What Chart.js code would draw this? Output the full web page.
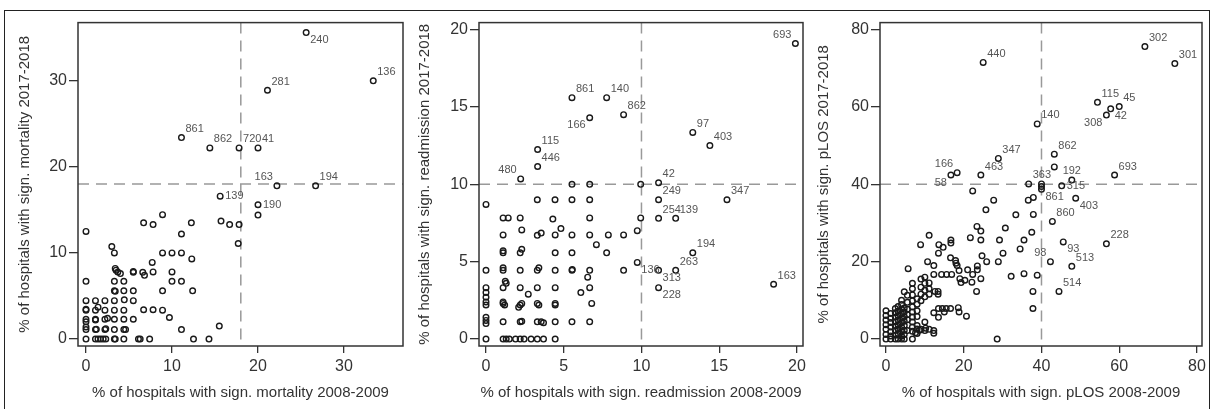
<!DOCTYPE html>
<html>
<head>
<meta charset="utf-8">
<script src="https://cdn.jsdelivr.net/npm/chart.js@4"></script>
<style>
  html, body { margin: 0; padding: 0; background: #fff; }
  body { width: 1211px; height: 409px; position: relative; overflow: hidden; }
  #frame { position: absolute; left: 4px; top: 10px; width: 1206px; height: 420px; border: 1.5px solid #222; box-sizing: border-box; }
  canvas { position: absolute; top: 11px; }
</style>
</head>
<body>
<div id="frame"></div>
<canvas id="mort" width="420" height="398" style="left:5px"></canvas>
<canvas id="readm" width="430" height="398" style="left:405px"></canvas>
<canvas id="plos" width="406" height="398" style="left:805px"></canvas>
<script>
// --- mortality panel ---
const mortCut = 18;
const mortXTicks = [0, 10, 20, 30];
const mortYTicks = [0, 10, 20, 30];
const mortPoints = [
  [0,12.5],[3.0,10.75],[3.3,10.0],[8.9,14.45],[6.7,13.5],[7.8,13.3],[12.25,13.5],[11.1,12.2],
  [15.7,13.7],[16.7,13.3],[17.8,13.3],[17.7,11.1],[8.9,10.0],[10.0,10.0],[11.1,10.0],[12.3,9.3],
  [7.7,8.9],[0,6.7],[3.4,8.2],[3.5,8.0],[3.7,7.8],[4.0,7.6],[5.5,7.85],[5.5,7.75],[6.6,7.75],
  [6.8,7.4],[7.8,7.8],[10.0,7.8],[3.3,6.7],[4.4,6.7],[10.0,6.7],[11.1,6.7],[3.3,5.6],[3.4,5.55],
  [4.4,5.6],[5.5,5.6],[8.9,5.6],[12.4,5.6],[0,4.45],[1.1,4.45],[2.2,4.45],[3.3,4.45],[4.45,4.55],
  [5.5,4.45],[1.4,3.7],[0,3.35],[0,3.45],[1.1,3.35],[2.2,3.35],[3.3,3.35],[4.4,3.35],[6.7,3.4],
  [7.8,3.4],[8.9,3.35],[9.7,2.5],[0,2.3],[0,2.0],[1.1,2.3],[1.1,2.2],[2.2,2.3],[2.5,2.4],[3.3,2.3],
  [4.4,2.3],[5.5,2.3],[0,1.1],[0,1.4],[1.1,1.1],[1.2,1.15],[2.2,1.1],[2.3,1.2],[3.3,1.1],[4.4,1.1],
  [4.6,1.1],[11.1,1.1],[15.5,1.5],[0,0],[1.1,0],[1.4,0],[1.7,0],[2.0,0],[2.3,0],[3.3,0],[3.4,0],
  [4.4,0],[6.1,0],[6.3,0],[7.4,0],[12.5,0],[14.3,0],[20.0,14.4]
];
const mortLabelled = [
  ['240',25.6,35.6],['136',33.4,30.0],['281',21.1,28.9],['861',11.1,23.4],['862',14.4,22.2],
  ['720',17.8,22.2],['41',20.0,22.2],['163',22.2,17.8],['194',26.7,17.8],['139',15.6,16.6],['190',20.0,15.6]
];
const mortLabelPos = { '240':'se', '163':'nw', '139':'e', '190':'e' };

// --- readmission panel ---
const readmCut = 10;
const readmXTicks = [0, 5, 10, 15, 20];
const readmYTicks = [0, 5, 10, 15, 20];
const readmPoints = [
  [5.53,10.0],[6.67,10.0],[9.95,10.0],[3.3,9.0],[4.44,9.0],[5.53,9.0],[6.67,9.0],[0,8.7],
  [1.1,7.83],[1.43,7.83],[2.2,7.83],[4.3,7.75],[6.67,7.83],[9.95,7.83],[2.3,7.05],[4.82,7.14],
  [1.1,6.73],[3.3,6.7],[3.55,6.85],[4.45,6.73],[5.53,6.73],[6.67,6.73],[7.87,6.73],[8.85,6.73],
  [9.73,7.0],[7.1,6.1],[7.76,5.57],[1.1,5.57],[1.1,5.7],[2.2,5.57],[2.3,5.8],[4.45,5.57],[5.53,5.57],
  [0,4.44],[1.1,4.44],[1.1,4.6],[2.2,4.44],[3.3,4.44],[3.4,4.6],[4.45,4.44],[5.53,4.44],[5.55,4.5],
  [6.67,4.44],[8.85,4.44],[1.24,3.73],[1.3,3.6],[6.54,4.0],[0,3.32],[1.1,3.32],[2.2,3.32],[3.3,3.32],
  [4.45,3.32],[6.67,3.32],[2.72,2.9],[6.1,3.0],[0,3.0],[0,2.7],[0,2.4],[0,2.2],[1.1,2.3],[1.1,2.4],
  [1.2,2.2],[2.2,2.2],[2.3,2.3],[2.1,2.05],[3.3,2.3],[3.4,2.2],[4.45,2.3],[4.45,2.2],[6.8,2.3],
  [0,1.0],[0,1.2],[0,1.4],[1.1,1.11],[2.2,1.11],[2.3,1.15],[3.3,1.11],[3.55,1.11],[3.7,1.05],
  [4.45,1.11],[5.53,1.11],[6.67,1.11],[0,0],[1.1,0],[1.3,0],[1.5,0],[1.9,0],[2.2,0],[2.45,0],
  [2.9,0],[3.3,0],[3.7,0],[4.45,0]
];
const readmLabelled = [
  ['693',19.9,19.1],['861',5.53,15.6],['140',7.76,15.6],['862',8.85,14.5],['166',6.67,14.3],
  ['97',13.3,13.35],['403',14.4,12.5],['115',3.32,12.25],['446',3.32,11.15],['480',2.23,10.35],
  ['42',11.1,10.1],['249',11.1,9.0],['347',15.5,9.0],['254',11.1,7.8],['139',12.2,7.8],
  ['194',13.3,5.57],['136',9.73,4.95],['313',11.1,4.44],['263',12.2,4.44],['228',11.1,3.32],['163',18.5,3.54]
];
const readmLabelPos = { '693':'nw', '166':'sw', '480':'nw', '136':'se', '313':'se', '228':'se' };

// --- pLOS panel ---
const plosCut = 40;
const plosXTicks = [0, 20, 40, 60, 80];
const plosYTicks = [0, 20, 40, 60, 80];
const plosPoints = [
  [43.3,44.5],[40.0,40.1],[40.0,39.4],[22.3,38.3],[27.7,35.9],[36.6,35.9],[37.9,36.6],
  [25.7,33.4],[33.4,32.1],[37.9,32.2],[23.4,29.1],[24.4,27.9],[30.7,28.7],[37.5,27.6],
  [21.7,26.2],[24.4,25.6],[29.2,25.6],[35.5,25.6],[11.1,26.8],[13.6,24.4],[14.7,23.7],
  [16.7,25.6],[16.7,24.8],[8.9,24.4],[13.5,22.2],[34.5,23.3],[30.1,22.2],[24.7,21.5],
  [25.9,20.0],[28.9,20.0],[10.7,20.0],[12.3,19.0],[16.6,21.0],[17.9,20.3],[18.0,19.6],
  [18.3,19.0],[18.8,17.7],[23.5,18.9],[23.5,17.9],[21.0,17.9],[22.3,16.7],[5.7,18.2],
  [9.0,15.5],[10.0,16.0],[12.3,16.7],[14.3,16.7],[15.6,16.7],[16.9,16.7],[19.0,15.6],
  [19.3,14.6],[20.3,15.2],[22.1,14.7],[24.4,15.6],[32.2,16.2],[35.5,16.9],[38.9,16.5],
  [23.3,12.3],[37.8,12.3],[37.8,7.9],[28.6,0],[11.1,14.5],[11.1,13.0],[11.1,11.6],
  [12.6,12.3],[13.4,12.3],[13.4,11.6],[13.5,7.9],[14.5,7.9],[15.5,7.9],[16.6,7.9],[15.0,7.0],
  [13.5,5.6],[18.6,8.1],[18.8,7.0],[20.7,5.9],[12.3,6.8],[10.0,4.4],[9.0,2.5],[10.2,2.8],
  [11.1,2.5],[12.3,1.5],[12.3,2.2],[8.6,2.3],[7.6,1.6],
  [0,7.3],[0,6.1],[0,4.9],[0,3.7],[0,2.5],[0,1.2],[0,0],
  [1.2,6.6],[1.2,5.4],[1.2,4.3],[1.2,3.1],[1.2,1.9],[1.2,0.8],[1.2,0],
  [2.4,7.9],[2.4,6.8],[2.4,5.6],[2.4,4.5],[2.4,3.3],[2.4,2.2],[2.4,1.0],[2.4,0],
  [3.1,8.4],[3.1,7.2],[3.1,6.1],[3.1,4.9],[3.1,3.7],[3.1,2.6],[3.1,1.4],[3.1,0],
  [4.0,10.0],[4.0,8.9],[4.0,7.7],[4.0,6.5],[4.0,5.4],[4.0,4.2],[4.0,3.1],[4.0,1.9],[4.0,0.8],[4.0,0],
  [4.7,12.2],[4.7,8.0],[4.7,7.0],[4.7,5.8],[4.7,4.6],[4.7,3.5],[4.7,2.3],[4.7,1.2],[4.7,0],
  [5.5,11.3],[5.5,9.5],[5.5,7.7],[5.5,6.3],[5.5,5.0],[5.5,2.2],
  [6.8,14.4],[6.8,13.0],[6.8,11.4],[6.8,9.9],[6.8,8.3],[6.8,7.0],[6.8,5.7],[6.8,4.4],[6.8,3.1],[6.8,2.0],[6.8,0],
  [8.0,10.4],[8.0,9.0],[8.0,7.3],[8.0,5.8],[8.0,3.5],[8.0,2.6],[8.0,1.4],
  [9.0,13.4],[9.0,11.6],[9.0,9.9],[10.0,14.4],[10.0,12.6],[10.0,10.9],[10.0,2.2]
];
const plosLabelled = [
  ['302',66.6,75.6],['301',74.3,71.2],['440',25.0,71.5],['115',54.4,61.2],['45',60.0,60.1],
  ['42',57.8,59.5],['308',56.7,57.9],['140',38.9,55.6],['862',43.3,47.8],['347',28.9,46.7],
  ['166',18.3,43.0],['58',16.7,42.4],['463',24.4,42.4],['693',58.8,42.4],['363',36.7,40.1],
  ['192',47.8,41.1],['315',45.2,39.6],['861',40.0,38.7],['403',48.8,36.4],['860',42.8,30.4],
  ['228',56.7,24.6],['93',45.6,25.1],['98',42.3,20.0],['513',47.8,18.8],['514',44.5,12.3]
];
const plosLabelPos = { '42':'se', '308':'sw', '166':'nw', '58':'sw', '192':'n', '315':'e', '861':'se', '403':'se', '93':'se', '98':'nw' };

const FONT = 'Liberation Sans, Arial, sans-serif';

const panelDecor = {
  id: 'panelDecor',
  beforeDatasetsDraw(chart, args, opts) {
    const { ctx, chartArea: a, scales: { x, y } } = chart;
    const px = x.getPixelForValue(opts.cut);
    const py = y.getPixelForValue(opts.cut);
    ctx.save();
    ctx.strokeStyle = '#999';
    ctx.lineWidth = 1.5;
    ctx.setLineDash([11, 7]);
    ctx.beginPath();
    ctx.moveTo(px, a.top); ctx.lineTo(px, a.bottom);
    ctx.moveTo(a.left, py); ctx.lineTo(a.right, py);
    ctx.stroke();
    ctx.restore();
  },
  afterDatasetsDraw(chart, args, opts) {
    const { ctx, chartArea: a, scales: { x, y } } = chart;
    ctx.save();
    ctx.strokeStyle = '#333';
    ctx.lineWidth = 1.5;
    ctx.strokeRect(a.left, a.top, a.right - a.left, a.bottom - a.top);
    ctx.fillStyle = '#555';
    ctx.font = '11px ' + FONT;
    opts.labelled.forEach(([id, vx, vy]) => {
      const px = x.getPixelForValue(vx), py = y.getPixelForValue(vy);
      const pos = opts.pos[id] || 'ne';
      let tx = px + 4, ty = py - 3;
      ctx.textAlign = 'left'; ctx.textBaseline = 'bottom';
      if (pos === 'se') { ty = py + 2; ctx.textBaseline = 'top'; }
      if (pos === 'nw') { tx = px - 4; ctx.textAlign = 'right'; }
      if (pos === 'sw') { tx = px - 4; ty = py + 2; ctx.textAlign = 'right'; ctx.textBaseline = 'top'; }
      if (pos === 'e') { tx = px + 5; ty = py; ctx.textBaseline = 'middle'; }
      if (pos === 'n') { tx = px; ty = py - 4; ctx.textAlign = 'center'; }
      ctx.fillText(id, tx, ty);
    });
    ctx.restore();
  }
};

function makePanel(id, p) {
  const all = p.points.concat(p.labelled.map(l => [l[1], l[2]]));
  new Chart(document.getElementById(id), {
    type: 'scatter',
    data: {
      datasets: [{
        data: all.map(([x, y]) => ({ x, y })),
        pointStyle: 'circle',
        pointRadius: 2.8,
        borderWidth: 1.4,
        borderColor: '#1a1a1a',
        backgroundColor: 'rgba(0,0,0,0)'
      }]
    },
    options: {
      responsive: false,
      animation: false,
      events: [],
      layout: { padding: { top: 10, right: p.padRight, left: 0, bottom: 0 } },
      plugins: {
        legend: { display: false },
        tooltip: { enabled: false },
        panelDecor: { cut: p.cut, labelled: p.labelled, pos: p.pos }
      },
      scales: {
        x: {
          type: 'linear', min: p.xr[0], max: p.xr[1],
          afterBuildTicks: s => { s.ticks = p.xTicks.map(v => ({ value: v })); },
          afterFit: s => { s.height = 63; },
          grid: { drawOnChartArea: false, drawTicks: true, tickLength: 7, color: '#333', lineWidth: 1.3 },
          border: { display: false },
          ticks: { font: { family: FONT, size: 16 }, color: '#333', padding: 4 },
          title: { display: true, text: p.xTitle, font: { family: FONT, size: 15 }, color: '#333', padding: { top: 0, bottom: 7 } }
        },
        y: {
          type: 'linear', min: p.yr[0], max: p.yr[1],
          afterBuildTicks: s => { s.ticks = p.yTicks.map(v => ({ value: v })); },
          afterFit: s => { s.width = p.axisW; },
          grid: { drawOnChartArea: false, drawTicks: true, tickLength: 9, color: '#333', lineWidth: 1.3 },
          border: { display: false },
          ticks: { font: { family: FONT, size: 16 }, color: '#333', padding: 2 },
          title: { display: true, text: p.yTitle, font: { family: FONT, size: 15 }, color: '#333', padding: { top: p.yTitlePad, bottom: 0 } }
        }
      }
    },
    plugins: [panelDecor]
  });
}

makePanel('mort', {
  points: mortPoints, labelled: mortLabelled, pos: mortLabelPos, cut: mortCut,
  xTicks: mortXTicks, yTicks: mortYTicks, xr: [-0.93, 36.86], yr: [-0.81, 36.76],
  xTitle: '% of hospitals with sign. mortality 2008-2009',
  yTitle: '% of hospitals with sign. mortality 2017-2018',
  axisW: 73, padRight: 22, yTitlePad: 11
});
makePanel('readm', {
  points: readmPoints, labelled: readmLabelled, pos: readmLabelPos, cut: readmCut,
  xTicks: readmXTicks, yTicks: readmYTicks, xr: [-0.45, 20.39], yr: [-0.45, 20.45],
  xTitle: '% of hospitals with sign. readmission 2008-2009',
  yTitle: '% of hospitals with sign. readmission 2017-2018',
  axisW: 74, padRight: 32, yTitlePad: 11
});
makePanel('plos', {
  points: plosPoints, labelled: plosLabelled, pos: plosLabelPos, cut: plosCut,
  xTicks: plosXTicks, yTicks: plosYTicks, xr: [-1.54, 81.29], yr: [-1.8, 81.8],
  xTitle: '% of hospitals with sign. pLOS 2008-2009',
  yTitle: '% of hospitals with sign. pLOS 2017-2018',
  axisW: 75, padRight: 9, yTitlePad: 10
});
</script>
</body>
</html>
